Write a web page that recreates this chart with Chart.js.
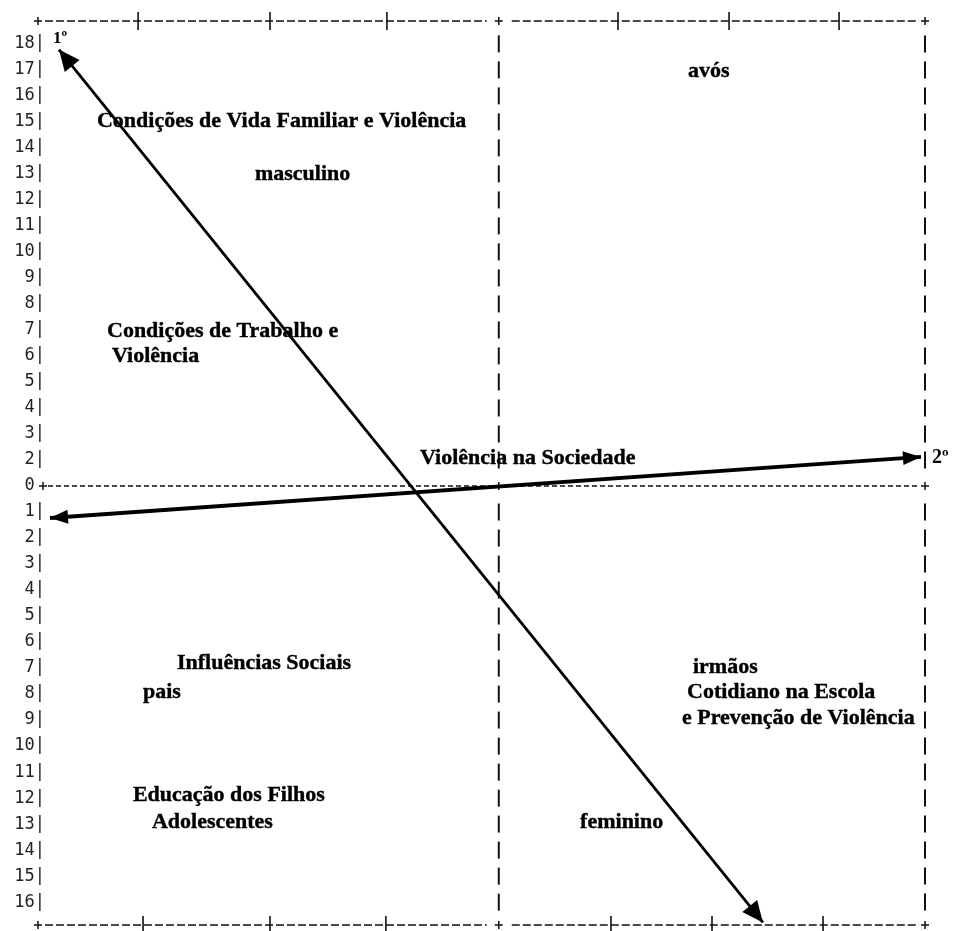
<!DOCTYPE html>
<html>
<head>
<meta charset="utf-8">
<script src="https://cdn.jsdelivr.net/npm/chart.js@4.4.1/dist/chart.umd.min.js"></script>
<style>
  html, body { margin: 0; padding: 0; background: #fff; }
  #wrap { width: 955px; height: 931px; }
</style>
</head>
<body>
<div id="wrap"><canvas id="chart" width="955" height="931"></canvas></div>
<script>
// scale limits (axis units of the map)
const xMin = -4, xMax = 3.7;
const yMin = -16.88, yMax = 17.88;

// row labels down the left side and where each row sits
const yTickValues = [17, 16, 15, 14, 13, 12, 11, 10, 9, 8, 7, 6, 5, 4, 3, 2, 1, 0,
  -1, -2, -3, -4, -5, -6, -7, -8, -9, -10, -11, -12, -13, -14, -15, -16];
const yTickLabels = ['18', '17', '16', '15', '14', '13', '12', '11', '10', '9', '8', '7', '6', '5', '4', '3', '2', '0',
  '1', '2', '3', '4', '5', '6', '7', '8', '9', '10', '11', '12', '13', '14', '15', '16'];

// tick marks on the top and bottom border
const topTicks = [-3.131, -1.986, -0.971, 1.035, 1.999, 2.954];
const bottomTicks = [-3.088, -1.986, -0.98, 0.974, 1.851, 2.815];

// factor axes (arrow start and end)
const axis1X = [-3.818, 2.293];
const axis1Y = [16.78, -16.78];
const axis2X = [-3.896, 3.665];
const axis2Y = [-1.23, 1.12];
const axisNames = ['1º', '2º'];
const axisNameX = [-3.87, 3.761];
const axisNameY = [17.21, 1.08];

// categories placed on the map
const labelTexts = [
  'Condições de Vida Familiar e Violência',
  'masculino',
  'avós',
  'Condições de Trabalho e',
  'Violência',
  'Violência na Sociedade',
  'Influências Sociais',
  'pais',
  'irmãos',
  'Cotidiano na Escola',
  'e Prevenção de Violência',
  'Educação dos Filhos',
  'Adolescentes',
  'feminino'
];
const labelX = [-3.488, -2.117, 1.642, -3.401, -3.358, -0.684, -2.794, -3.089, 1.686, 1.634, 1.590, -3.176, -3.011, 0.706];
const labelY = [14.01, 11.97, 15.94, 5.93, 4.97, 1.08, -6.81, -7.93, -6.97, -7.93, -8.93, -11.89, -12.93, -12.93];

const INK = '#111';

function plus(ctx, x, y) {
  ctx.save();
  ctx.setLineDash([]);
  ctx.lineWidth = 1.5;
  ctx.strokeStyle = INK;
  ctx.beginPath();
  ctx.moveTo(x - 4, y); ctx.lineTo(x + 4, y);
  ctx.moveTo(x, y - 4); ctx.lineTo(x, y + 4);
  ctx.stroke();
  ctx.restore();
}

function hDash(ctx, x1, x2, y, pattern, w) {
  ctx.save();
  ctx.setLineDash(pattern);
  ctx.lineWidth = w;
  ctx.strokeStyle = INK;
  ctx.beginPath();
  ctx.moveTo(x1, y); ctx.lineTo(x2, y);
  ctx.stroke();
  ctx.restore();
}

function vBar(ctx, x, y1, y2, w) {
  ctx.save();
  ctx.setLineDash([]);
  ctx.lineWidth = w;
  ctx.strokeStyle = INK;
  ctx.beginPath();
  ctx.moveTo(x, y1); ctx.lineTo(x, y2);
  ctx.stroke();
  ctx.restore();
}

function arrowHead(ctx, tx, ty, fx, fy, len, half) {
  const a = Math.atan2(ty - fy, tx - fx);
  const bx = tx - len * Math.cos(a), by = ty - len * Math.sin(a);
  ctx.save();
  ctx.fillStyle = '#000';
  ctx.beginPath();
  ctx.moveTo(tx, ty);
  ctx.lineTo(bx + half * Math.sin(a), by - half * Math.cos(a));
  ctx.lineTo(bx - half * Math.sin(a), by + half * Math.cos(a));
  ctx.closePath();
  ctx.fill();
  ctx.restore();
}

const frame = {
  id: 'frame',
  beforeDatasetsDraw(chart) {
    const ctx = chart.ctx;
    const xs = chart.scales.x, ys = chart.scales.y;
    const L = xs.getPixelForValue(xMin), R = xs.getPixelForValue(xMax), C = xs.getPixelForValue(0);
    const T = ys.getPixelForValue(yMax), B = ys.getPixelForValue(yMin), Z = ys.getPixelForValue(0);

    // top and bottom borders
    [[T, topTicks], [B, bottomTicks]].forEach(([y, ticks]) => {
      plus(ctx, L, y);
      hDash(ctx, L + 7, C - 12, y, [8, 3], 1.5);
      plus(ctx, C, y);
      hDash(ctx, C + 13, R - 6, y, [8, 3], 1.5);
      plus(ctx, R, y);
      ticks.forEach(v => {
        const x = xs.getPixelForValue(v);
        vBar(ctx, x, y - 9, y + 9, 1.6);
      });
    });

    // zero line
    plus(ctx, L + 5, Z);
    hDash(ctx, L + 10, R - 5, Z, [5, 3], 1.3);
    plus(ctx, C, Z);
    plus(ctx, R, Z);

    // vertical dashed lines at x = 0 and right edge
    yTickValues.forEach(v => {
      if (v === 0) return;
      const y = ys.getPixelForValue(v);
      vBar(ctx, C, y - 8.5, y + 8.5, 2);
      vBar(ctx, R, y - 8.5, y + 8.5, 2);
    });

    // row labels
    ctx.save();
    ctx.font = '17px "DejaVu Sans Mono"';
    ctx.fillStyle = '#222';
    ctx.textAlign = 'right';
    ctx.textBaseline = 'middle';
    yTickValues.forEach((v, i) => {
      const txt = yTickLabels[i] + (v === 0 ? ' ' : '|');
      ctx.fillText(txt, L + 7, ys.getPixelForValue(v));
    });
    ctx.restore();
  },
  afterDatasetsDraw(chart) {
    const ctx = chart.ctx;
    const xs = chart.scales.x, ys = chart.scales.y;
    const px = v => xs.getPixelForValue(v), py = v => ys.getPixelForValue(v);

    arrowHead(ctx, px(axis1X[0]), py(axis1Y[0]), px(axis1X[1]), py(axis1Y[1]), 21, 9.5);
    arrowHead(ctx, px(axis1X[1]), py(axis1Y[1]), px(axis1X[0]), py(axis1Y[0]), 21, 9.5);
    arrowHead(ctx, px(axis2X[0]), py(axis2Y[0]), px(axis2X[1]), py(axis2Y[1]), 18, 7);
    arrowHead(ctx, px(axis2X[1]), py(axis2Y[1]), px(axis2X[0]), py(axis2Y[0]), 18, 7);

    ctx.save();
    ctx.fillStyle = '#000';
    ctx.strokeStyle = '#000';
    ctx.lineWidth = 0.4;
    ctx.textAlign = 'left';
    ctx.textBaseline = 'middle';
    ctx.font = 'bold 22px "Liberation Serif"';
    labelTexts.forEach((t, i) => {
      ctx.fillText(t, px(labelX[i]), py(labelY[i]));
      ctx.strokeText(t, px(labelX[i]), py(labelY[i]));
    });
    ctx.font = 'bold 17px "Liberation Serif"';
    ctx.fillText(axisNames[0], px(axisNameX[0]), py(axisNameY[0]));
    ctx.font = 'bold 20px "Liberation Serif"';
    ctx.fillText(axisNames[1], px(axisNameX[1]), py(axisNameY[1]));
    ctx.restore();
  }
};

const toPoints = (xsArr, ysArr) => xsArr.map((x, i) => ({ x: x, y: ysArr[i] }));

new Chart(document.getElementById('chart'), {
  type: 'scatter',
  data: {
    datasets: [
      {
        label: '1º',
        data: toPoints(axis1X, axis1Y),
        showLine: true,
        borderColor: '#000',
        borderWidth: 2.8,
        pointRadius: 0
      },
      {
        label: '2º',
        data: toPoints(axis2X, axis2Y),
        showLine: true,
        borderColor: '#000',
        borderWidth: 4,
        pointRadius: 0
      }
    ]
  },
  options: {
    responsive: false,
    animation: false,
    devicePixelRatio: 1,
    layout: { padding: { left: 38, right: 30, top: 21, bottom: 6 } },
    plugins: {
      legend: { display: false },
      tooltip: { enabled: false },
      title: { display: false }
    },
    scales: {
      x: { type: 'linear', min: xMin, max: xMax, display: false },
      y: { type: 'linear', min: yMin, max: yMax, display: false }
    }
  },
  plugins: [frame]
});
</script>
</body>
</html>
